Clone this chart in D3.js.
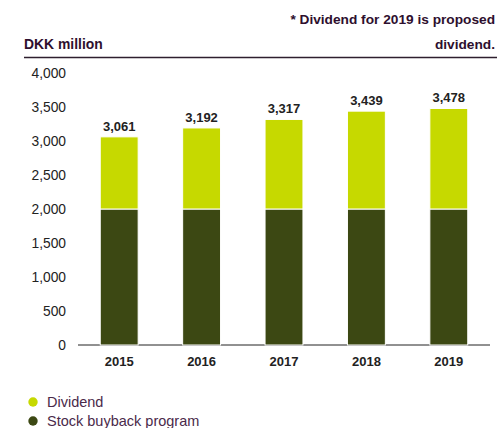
<!DOCTYPE html>
<html>
<head>
<meta charset="utf-8">
<script src="https://cdn.jsdelivr.net/npm/d3@7"></script>
<style>
  body { margin: 0; background: #fff; }
  text { font-family: "Liberation Sans", Arial, sans-serif; }
</style>
</head>
<body>
<div id="chart"></div>
<script>
const years = ["2015", "2016", "2017", "2018", "2019"];
const buyback = [2000, 2000, 2000, 2000, 2000];
const dividend = [1061, 1192, 1317, 1439, 1478];
const totals = [3061, 3192, 3317, 3439, 3478];
const yTicks = [0, 500, 1000, 1500, 2000, 2500, 3000, 3500, 4000];

const width = 497, height = 428;
const colDiv = "#c6d900", colBuy = "#3c4813";

const svg = d3.select("#chart").append("svg")
    .attr("width", width)
    .attr("height", height);

// cabecera
svg.append("text").attr("x", 495).attr("y", 24)
    .attr("text-anchor", "end").attr("font-size", 13.7).attr("font-weight", "bold")
    .attr("fill", "#2e0f2e").text("* Dividend for 2019 is proposed");
svg.append("text").attr("x", 495).attr("y", 49)
    .attr("text-anchor", "end").attr("font-size", 13.7).attr("font-weight", "bold")
    .attr("fill", "#2e0f2e").text("dividend.");
svg.append("text").attr("x", 24).attr("y", 49)
    .attr("font-size", 13.9).attr("font-weight", "bold")
    .attr("fill", "#2e0f2e").text("DKK million");
svg.append("line").attr("x1", 24).attr("x2", 497).attr("y1", 57.5).attr("y2", 57.5)
    .attr("stroke", "#2e1f2e").attr("stroke-width", 1.5);

const x = d3.scaleBand().domain(years).range([78, 490])
    .paddingInner(0.54).paddingOuter(0.27);
const y = d3.scaleLinear().domain([0, 4000]).range([345, 73]);

// eje y (solo etiquetas)
svg.append("g").selectAll("text")
    .data(yTicks).enter().append("text")
    .attr("x", 66).attr("y", d => y(d)).attr("dy", "0.35em")
    .attr("text-anchor", "end").attr("font-size", 13.8).attr("fill", "#222")
    .text(d => d3.format(",")(d));

// linea base
svg.append("line").attr("x1", 78).attr("x2", 490).attr("y1", y(0)).attr("y2", y(0))
    .attr("stroke", "#222").attr("stroke-width", 1);

const g = svg.append("g");
// barras apiladas
g.selectAll(".buy").data(years).enter().append("rect")
    .attr("x", d => x(d)).attr("width", x.bandwidth())
    .attr("y", (d, i) => y(buyback[i])).attr("height", (d, i) => y(0) - y(buyback[i]))
    .attr("fill", colBuy).attr("stroke", "#fff").attr("stroke-width", 1);
g.selectAll(".div").data(years).enter().append("rect")
    .attr("x", d => x(d)).attr("width", x.bandwidth())
    .attr("y", (d, i) => y(buyback[i] + dividend[i]))
    .attr("height", (d, i) => y(buyback[i]) - y(buyback[i] + dividend[i]))
    .attr("fill", colDiv).attr("stroke", "#fff").attr("stroke-width", 1);

// valores totales
g.selectAll(".lbl").data(years).enter().append("text")
    .attr("x", d => x(d) + x.bandwidth() / 2)
    .attr("y", (d, i) => y(totals[i]) - 6)
    .attr("text-anchor", "middle").attr("font-size", 13).attr("font-weight", "bold")
    .attr("fill", "#222").text((d, i) => d3.format(",")(totals[i]));

// eje x
svg.append("g").selectAll("text").data(years).enter().append("text")
    .attr("x", d => x(d) + x.bandwidth() / 2).attr("y", 366)
    .attr("text-anchor", "middle").attr("font-size", 13).attr("font-weight", "bold")
    .attr("fill", "#222").text(d => d);

// leyenda
const legend = [["Dividend", colDiv], ["Stock buyback program", colBuy]];
const lg = svg.append("g").selectAll("g").data(legend).enter().append("g")
    .attr("transform", (d, i) => `translate(33,${402 + i * 19})`);
lg.append("circle").attr("r", 4.7).attr("fill", d => d[1]);
lg.append("text").attr("x", 14).attr("dy", "0.35em").attr("font-size", 14.5)
    .attr("fill", "#4a2a4a").text(d => d[0]);
</script>
</body>
</html>
